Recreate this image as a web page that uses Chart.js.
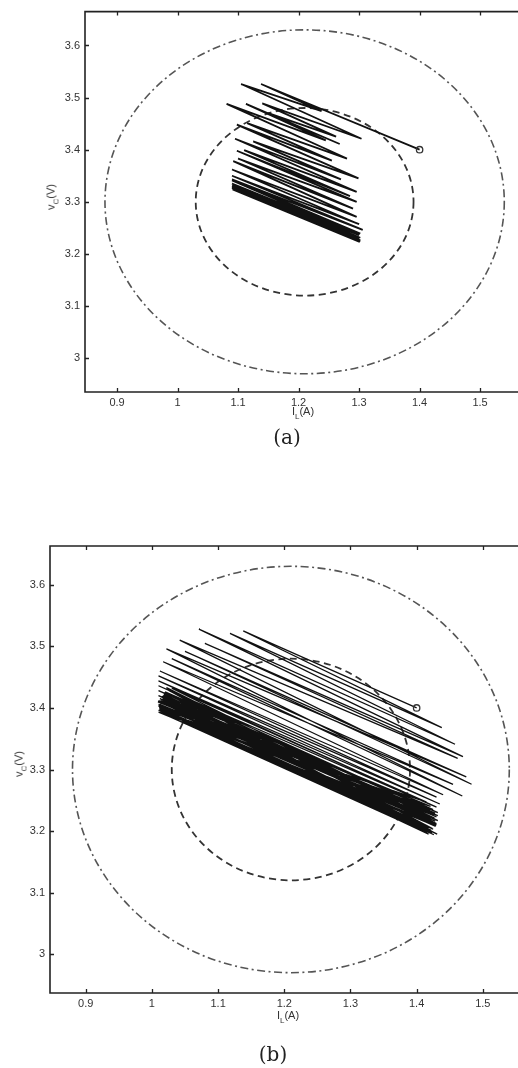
<!DOCTYPE html>
<html><head><meta charset="utf-8">
<script src="https://cdn.jsdelivr.net/npm/chart.js@4"></script>
<style>
html,body{margin:0;padding:0;background:#fff;overflow:hidden;width:518px;height:1068px;position:relative}
canvas{position:absolute;left:0}
#ca{top:0}
#cb{top:520px}
.xlab,.ylab{position:absolute;color:#333;font-family:"Liberation Sans",Arial,sans-serif;font-size:11px;white-space:nowrap;line-height:1}
.xlab{transform:translateX(-50%)}
.ylab{transform:translate(-50%,-50%) rotate(-90deg)}
sub{font-size:8px;vertical-align:-4px}
.cap{position:absolute;font-family:"DejaVu Serif",serif;font-size:20px;color:#222;transform:translate(-50%,-50%);line-height:1;white-space:nowrap}
</style></head>
<body>
<canvas id="ca" width="560" height="440"></canvas>
<canvas id="cb" width="560" height="520"></canvas>
<div class="xlab" style="left:303px;top:406px">I<sub>L</sub>(A)</div>
<div class="ylab" style="left:53px;top:197px">v<sub>C</sub>(V)</div>
<div class="cap" style="left:287px;top:437px">(a)</div>
<div class="xlab" style="left:288px;top:1010px">I<sub>L</sub>(A)</div>
<div class="ylab" style="left:21px;top:764px">v<sub>C</sub>(V)</div>
<div class="cap" style="left:273px;top:1054px">(b)</div>
<script>
// ---- data ----
const xTicks = [0.9, 1, 1.1, 1.2, 1.3, 1.4, 1.5];
const xTickLabels = ['0.9', '1', '1.1', '1.2', '1.3', '1.4', '1.5'];
const yTicks = [3, 3.1, 3.2, 3.3, 3.4, 3.5, 3.6];
const yTickLabels = ['3', '3.1', '3.2', '3.3', '3.4', '3.5', '3.6'];

const startI = [1.400];
const startV = [3.400];

const circleCenterI = 1.21;
const circleCenterV = 3.30;
const innerRadius = 0.18;
const outerRadius = 0.33;

const trajA_I = [1.400,1.138,1.238,1.105,1.304,1.140,1.262,1.150,1.268,1.113,1.245,1.081,1.280,1.115,1.255,1.098,1.299,1.125,1.270,1.095,1.296,1.110,1.285,1.098,1.296,1.100,1.290,1.092,1.296,1.090,1.300,1.090,1.306,1.090,1.302,1.090,1.300,1.090,1.302,1.090,1.300,1.090,1.302,1.090,1.302,1.090,1.300,1.091,1.301];
const trajA_V = [3.400,3.526,3.474,3.526,3.421,3.489,3.425,3.470,3.411,3.488,3.418,3.488,3.383,3.451,3.379,3.448,3.345,3.416,3.343,3.421,3.319,3.399,3.311,3.398,3.300,3.383,3.287,3.378,3.271,3.362,3.257,3.350,3.246,3.343,3.239,3.341,3.236,3.335,3.231,3.331,3.229,3.329,3.226,3.327,3.224,3.326,3.224,3.324,3.223];

const trajB_I = [1.400,1.138,1.438,1.118,1.458,1.071,1.470,1.080,1.462,1.042,1.483,1.050,1.475,1.022,1.469,1.030,1.455,1.017,1.440,1.012,1.430,1.010,1.435,1.010,1.430,1.010,1.432,1.010,1.430,1.010,1.428,1.010,1.428,1.010,1.425,1.011,1.420,1.012,1.415,1.012,1.410,1.025,1.425,1.010,1.420,1.012,1.418,1.018,1.430,1.010,1.415,1.030,1.432,1.009,1.428,1.015,1.420,1.014,1.425,1.020,1.430,1.010,1.426,1.016,1.422,1.012,1.428,1.022,1.418,1.011,1.432,1.013,1.424,1.026,1.429,1.010,1.421,1.017,1.431,1.012,1.427,1.019,1.423,1.011,1.430,1.014,1.426];
const trajB_V = [3.400,3.525,3.368,3.521,3.341,3.528,3.321,3.505,3.318,3.510,3.276,3.492,3.288,3.496,3.257,3.480,3.276,3.475,3.259,3.460,3.255,3.452,3.244,3.444,3.239,3.436,3.230,3.428,3.223,3.420,3.216,3.412,3.208,3.405,3.203,3.400,3.201,3.396,3.199,3.393,3.200,3.429,3.222,3.406,3.234,3.415,3.205,3.422,3.210,3.396,3.247,3.432,3.217,3.410,3.229,3.419,3.197,3.392,3.235,3.426,3.212,3.403,3.225,3.415,3.201,3.398,3.216,3.433,3.195,3.401,3.225,3.412,3.204,3.428,3.208,3.393,3.240,3.420,3.195,3.406,3.221,3.425,3.197,3.397,3.218,3.409,3.194];

// ---- plugin: reference circles, frame and inward ticks ----
const guides = {
  id: 'guides',
  beforeDatasetsDraw(chart) {
    const {ctx, chartArea: a, scales: {x, y}} = chart;
    const cx = x.getPixelForValue(circleCenterI), cy = y.getPixelForValue(circleCenterV);
    const ell = (r) => [Math.abs(x.getPixelForValue(circleCenterI + r) - cx), Math.abs(y.getPixelForValue(circleCenterV + r) - cy)];
    ctx.save();
    ctx.beginPath(); ctx.rect(a.left, a.top, a.right - a.left, a.bottom - a.top); ctx.clip();
    let [rx, ry] = ell(outerRadius);
    ctx.beginPath(); ctx.setLineDash([8, 3.5, 2, 3.5]); ctx.lineWidth = 1.6; ctx.strokeStyle = '#555';
    ctx.ellipse(cx, cy, rx, ry, 0, 0, Math.PI * 2); ctx.stroke();
    [rx, ry] = ell(innerRadius);
    ctx.beginPath(); ctx.setLineDash([7, 4.5]); ctx.lineWidth = 1.8; ctx.strokeStyle = '#333';
    ctx.ellipse(cx, cy, rx, ry, 0, 0, Math.PI * 2); ctx.stroke();
    ctx.restore();
  },
  afterDraw(chart) {
    const {ctx, chartArea: a, scales: {x, y}} = chart;
    ctx.save();
    ctx.strokeStyle = '#222'; ctx.lineWidth = 1.6; ctx.setLineDash([]);
    ctx.beginPath();
    ctx.moveTo(a.right, a.top); ctx.lineTo(a.left, a.top); ctx.lineTo(a.left, a.bottom); ctx.lineTo(a.right, a.bottom); ctx.lineTo(a.right, a.top);
    ctx.stroke();
    ctx.lineWidth = 1.3;
    ctx.beginPath();
    xTicks.forEach(v => {
      const px = Math.round(x.getPixelForValue(v)) + 0.5;
      ctx.moveTo(px, a.bottom); ctx.lineTo(px, a.bottom - 4);
      ctx.moveTo(px, a.top); ctx.lineTo(px, a.top + 4);
    });
    yTicks.forEach(v => {
      const py = Math.round(y.getPixelForValue(v)) + 0.5;
      ctx.moveTo(a.left, py); ctx.lineTo(a.left + 4, py);
      ctx.moveTo(a.right, py); ctx.lineTo(a.right - 4, py);
    });
    ctx.stroke();
    ctx.restore();
  }
};

function makeChart(id, I, V, lw, opts) {
  const pts = I.map((v, k) => ({x: v, y: V[k]}));
  const start = startI.map((v, k) => ({x: v, y: startV[k]}));
  return new Chart(document.getElementById(id), {
    type: 'scatter',
    data: {datasets: [
      {data: start, pointRadius: 3.2, pointBorderWidth: 1.3, pointBorderColor: '#333', pointBackgroundColor: 'rgba(0,0,0,0)', showLine: false, order: 0},
      {data: pts, showLine: true, pointRadius: 0, borderColor: '#111', borderWidth: lw, tension: 0, order: 1}
    ]},
    options: {
      responsive: false, animation: false,
      layout: {padding: {top: opts.top, right: opts.right, left: 0, bottom: 0}},
      plugins: {legend: {display: false}, tooltip: {enabled: false}},
      scales: {
        x: {
          type: 'linear', min: opts.xmin, max: 1.6,
          grid: {display: false, drawTicks: false}, border: {display: false},
          afterBuildTicks: s => { s.ticks = xTicks.map(v => ({value: v})); },
          afterFit: s => { s.height = opts.xh; },
          ticks: {padding: 4, color: '#333', font: {family: 'Liberation Sans, Arial, sans-serif', size: 11},
                  callback: (v, i) => xTickLabels[i]}
        },
        y: {
          type: 'linear', min: opts.ymin, max: opts.ymax,
          grid: {display: false, drawTicks: false}, border: {display: false},
          afterBuildTicks: s => { s.ticks = yTicks.map(v => ({value: v})); },
          afterFit: s => { s.width = opts.yw; },
          ticks: {padding: 5, color: '#333', font: {family: 'Liberation Sans, Arial, sans-serif', size: 11},
                  callback: (v, i) => yTickLabels[i]}
        }
      }
    },
    plugins: [guides]
  });
}

makeChart('ca', trajA_I, trajA_V, 1.8, {top: 8, right: 19.4, xh: 48, yw: 85, xmin: 0.847, ymin: 2.935, ymax: 3.665});
makeChart('cb', trajB_I, trajB_V, 1.3, {top: 26, right: 11, xh: 47, yw: 50, xmin: 0.846, ymin: 2.937, ymax: 3.663});
</script>
</body></html>
